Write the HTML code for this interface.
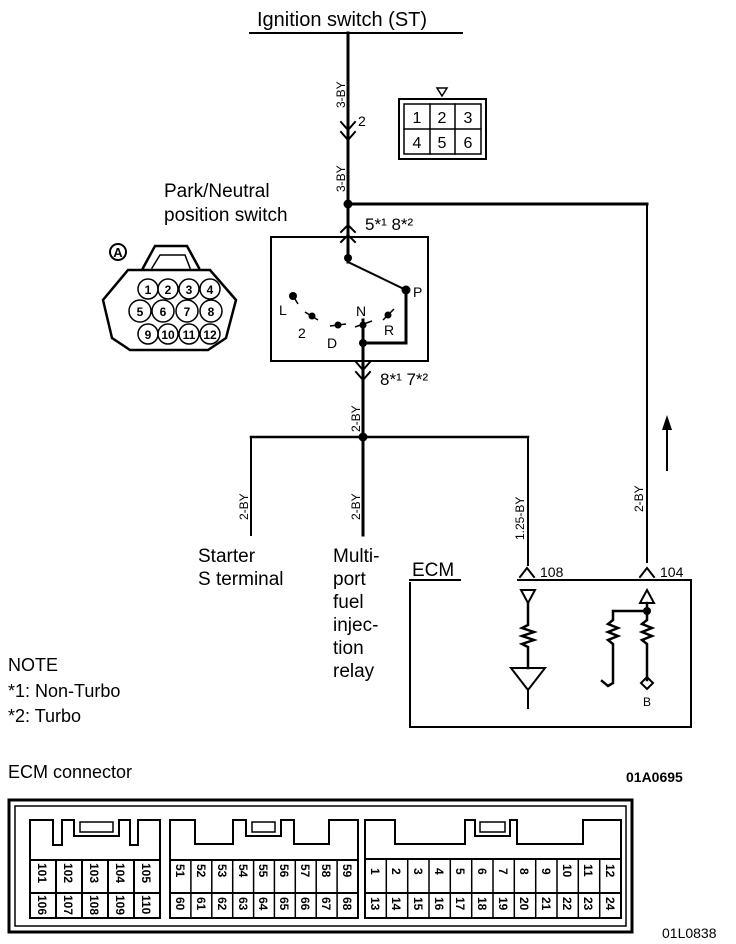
<!DOCTYPE html>
<html><head><meta charset="utf-8"><style>
html,body{margin:0;padding:0;background:#fff}
svg{display:block}
text{font-family:"Liberation Sans",sans-serif;fill:#000}
</style></head><body>
<svg width="736" height="944" viewBox="0 0 736 944" xmlns="http://www.w3.org/2000/svg">
<g stroke="#000" fill="none" stroke-linecap="square">
<line x1="250" y1="33" x2="462" y2="33" stroke-width="2"/>
<line x1="348" y1="33" x2="348" y2="262" stroke-width="3"/>
<polyline points="341,122 348,130 355,122" stroke-width="2"/>
<polyline points="341,132 348,140 355,132" stroke-width="2"/>
<line x1="348" y1="204" x2="647" y2="204" stroke-width="3"/>
<line x1="647" y1="204" x2="647" y2="562" stroke-width="2"/>
<polyline points="341,232 348,225 355,232" stroke-width="2"/>
<polyline points="341,242 348,235 355,242" stroke-width="2"/>
<rect x="271" y="237" width="157" height="124" stroke-width="2"/>
<line x1="348" y1="262" x2="406" y2="290" stroke-width="2"/>
<polyline points="406,290 406,343 363,343" stroke-width="3"/>
<line x1="363" y1="320" x2="363" y2="437" stroke-width="3"/>
<polyline points="356,362 363,370 370,362" stroke-width="2"/>
<polyline points="356,372 363,380 370,372" stroke-width="2"/>
<line x1="251" y1="437" x2="528" y2="437" stroke-width="2.5"/>
<line x1="251" y1="437" x2="251" y2="535" stroke-width="2"/>
<line x1="363" y1="437" x2="363" y2="535" stroke-width="3"/>
<line x1="528" y1="437" x2="528" y2="565" stroke-width="2"/>
<polyline points="520,577 527,568 534,577" stroke-width="2"/>
<polyline points="640,577 647,568 654,577" stroke-width="2"/>
<line x1="410" y1="580" x2="460" y2="580" stroke-width="2"/>
<line x1="518" y1="580" x2="691" y2="580" stroke-width="2"/>
<polyline points="691,580 691,727 410,727 410,583" stroke-width="2"/>
<polygon points="521,590 535,590 528,603" stroke-width="2"/>
<polyline points="528,603 528,625 522,628 534,632 522,636 534,640 522,644 528,647 528,668" stroke-width="2.5"/>
<polygon points="511,668 545,668 528,690" stroke-width="2"/>
<line x1="528" y1="690" x2="528" y2="708" stroke-width="2"/>
<polygon points="640,603 654,603 647,590" stroke-width="2"/>
<polyline points="647,603 647,620 642,624 652,628 642,632 652,636 642,640 647,644 647,680" stroke-width="2.5"/>
<polyline points="647,611 613,611 613,620 608,624 618,628 608,632 618,636 608,640 613,644 613,683 608,686 602,681" stroke-width="2.5"/>
<polygon points="641,683 647,677 653,683 647,689" stroke-width="2"/>
<line x1="667" y1="470" x2="667" y2="425" stroke-width="2"/>
<rect x="399" y="99" width="87" height="60" stroke-width="2"/>
<rect x="404" y="104" width="77" height="50" stroke-width="1.5"/>
<line x1="404" y1="129" x2="481" y2="129" stroke-width="1.5"/>
<line x1="430" y1="104" x2="430" y2="154" stroke-width="1.5"/>
<line x1="455" y1="104" x2="455" y2="154" stroke-width="1.5"/>
<polygon points="437,88 447,88 442,96" stroke-width="1.5"/>
<circle cx="118" cy="252" r="8" stroke-width="2"/>
<path d="M143,268 L155,246 L187,246 L199,268" stroke-width="2.5"/>
<path d="M152,268 L160,255 L185,255 L190,268" stroke-width="1.5"/>
<path d="M128,270 L210,270 L236,300 L226,338 L208,350 L130,350 L112,338 L103,300 Z" stroke-width="2.5"/>
</g>
<g fill="#000">
<circle cx="348" cy="204" r="4.5"/>
<circle cx="348" cy="258" r="4"/>
<circle cx="406" cy="290" r="4.5"/>
<circle cx="293" cy="296" r="4"/>
<circle cx="312" cy="316" r="3.5"/>
<circle cx="338" cy="325" r="3.5"/>
<circle cx="363" cy="325" r="3.5"/>
<circle cx="388" cy="315" r="3.5"/>
<circle cx="363" cy="343" r="4"/>
<circle cx="363" cy="437" r="4.5"/>
<circle cx="647" cy="611" r="4"/>
<polygon points="662,430 667,415 672,430"/>
</g>
<g stroke="#000" stroke-width="1.5">
<line x1="295" y1="299" x2="298" y2="304"/>
<line x1="305" y1="312" x2="318" y2="320"/>
<line x1="330" y1="326" x2="346" y2="324"/>
<line x1="355" y1="327" x2="372" y2="321"/>
<line x1="383" y1="320" x2="394" y2="309"/>
</g>
<g stroke="#000" stroke-width="1.5" fill="none">
<circle cx="148" cy="289" r="10"/><circle cx="168" cy="289" r="10"/><circle cx="189" cy="289" r="10"/><circle cx="210" cy="289" r="10"/>
<circle cx="140" cy="311" r="11"/><circle cx="163" cy="311" r="11"/><circle cx="187" cy="311" r="11"/><circle cx="211" cy="311" r="11"/>
<circle cx="148" cy="334" r="10"/><circle cx="168" cy="334" r="10"/><circle cx="189" cy="334" r="10"/><circle cx="210" cy="334" r="10"/>
</g>
<g font-size="12" text-anchor="middle" font-weight="bold">
<text x="148" y="294">1</text><text x="168" y="294">2</text><text x="189" y="294">3</text><text x="210" y="294">4</text>
<text x="140" y="316">5</text><text x="163" y="316">6</text><text x="187" y="316">7</text><text x="211" y="316">8</text>
<text x="148" y="339">9</text><text x="168" y="339">10</text><text x="189" y="339">11</text><text x="210" y="339">12</text>
<text x="118" y="257" font-size="13">A</text>
</g>
<g font-size="16" text-anchor="middle">
<text x="417" y="123">1</text><text x="442" y="123">2</text><text x="468" y="123">3</text>
<text x="417" y="148">4</text><text x="442" y="148">5</text><text x="468" y="148">6</text>
</g>
<text x="257" y="26" font-size="20">Ignition switch (ST)</text>
<text x="164" y="197" font-size="19">Park/Neutral</text>
<text x="164" y="221" font-size="19">position switch</text>
<text x="358" y="126" font-size="14">2</text>
<text x="365" y="230" font-size="17">5*¹ 8*²</text>
<text x="380" y="385" font-size="17">8*¹ 7*²</text>
<text x="279" y="315" font-size="14">L</text>
<text x="298" y="338" font-size="14">2</text>
<text x="327" y="348" font-size="14">D</text>
<text x="356" y="316" font-size="14">N</text>
<text x="384" y="335" font-size="14">R</text>
<text x="413" y="297" font-size="14">P</text>
<g font-size="12">
<text transform="translate(345,108) rotate(-90)">3-BY</text>
<text transform="translate(345,192) rotate(-90)">3-BY</text>
<text transform="translate(360,432) rotate(-90)">2-BY</text>
<text transform="translate(248,520) rotate(-90)">2-BY</text>
<text transform="translate(360,520) rotate(-90)">2-BY</text>
<text transform="translate(524,540) rotate(-90)">1.25-BY</text>
<text transform="translate(643,512) rotate(-90)">2-BY</text>
</g>
<text x="198" y="562" font-size="19">Starter</text>
<text x="198" y="585" font-size="19">S terminal</text>
<g font-size="19">
<text x="333" y="562">Multi-</text><text x="333" y="585">port</text><text x="333" y="608">fuel</text>
<text x="333" y="631">injec-</text><text x="333" y="654">tion</text><text x="333" y="677">relay</text>
</g>
<text x="412" y="576" font-size="19">ECM</text>
<text x="540" y="577" font-size="14">108</text>
<text x="660" y="577" font-size="14">104</text>
<text x="643" y="706" font-size="12">B</text>
<text x="8" y="671" font-size="18">NOTE</text>
<text x="8" y="697" font-size="18">*1: Non-Turbo</text>
<text x="8" y="722" font-size="18">*2: Turbo</text>
<text x="8" y="778" font-size="18">ECM connector</text>
<text x="626" y="782" font-size="14" font-weight="bold">01A0695</text>
<text x="662" y="938" font-size="14">01L0838</text>
<!-- ECM connector -->
<g stroke="#000" fill="none" stroke-width="2">
<rect x="9" y="800" width="623" height="132" stroke-width="3"/>
<rect x="15" y="806" width="611" height="120" stroke-width="1.5"/>
<!-- block1 -->
<path d="M30,918 V820 H53 V845 H62 V820 H74 V836 H119 V820 H130 V845 H138 V820 H160 V918 Z"/>
<path d="M80,822 H113 V832 H80 Z" stroke-width="1.5"/>
<line x1="30" y1="860" x2="160" y2="860"/>
<line x1="30" y1="893" x2="160" y2="893"/>
<line x1="56" y1="860" x2="56" y2="918"/><line x1="82" y1="860" x2="82" y2="918"/><line x1="108" y1="860" x2="108" y2="918"/><line x1="134" y1="860" x2="134" y2="918"/>
<!-- block2 -->
<path d="M170,918 V820 H195 V844 H233 V820 H246 V836 H281 V820 H294 V844 H329 V820 H358 V918 Z"/>
<path d="M252,822 H275 V832 H252 Z" stroke-width="1.5"/>
<line x1="170" y1="860" x2="358" y2="860"/>
<line x1="170" y1="893" x2="358" y2="893"/>
<!-- block3 -->
<path d="M365,918 V820 H395 V844 H465 V820 H475 V836 H510 V820 H517 V844 H583 V820 H621 V918 Z"/>
<path d="M480,822 H505 V832 H480 Z" stroke-width="1.5"/>
<line x1="365" y1="859" x2="621" y2="859"/>
<line x1="365" y1="893" x2="621" y2="893"/>
</g>
<g stroke="#000" stroke-width="1.5">
<line x1="190.9" y1="860" x2="190.9" y2="918"/><line x1="211.8" y1="860" x2="211.8" y2="918"/><line x1="232.7" y1="860" x2="232.7" y2="918"/><line x1="253.6" y1="860" x2="253.6" y2="918"/><line x1="274.4" y1="860" x2="274.4" y2="918"/><line x1="295.3" y1="860" x2="295.3" y2="918"/><line x1="316.2" y1="860" x2="316.2" y2="918"/><line x1="337.1" y1="860" x2="337.1" y2="918"/>
<line x1="386.3" y1="859" x2="386.3" y2="918"/><line x1="407.7" y1="859" x2="407.7" y2="918"/><line x1="429" y1="859" x2="429" y2="918"/><line x1="450.3" y1="859" x2="450.3" y2="918"/><line x1="471.7" y1="859" x2="471.7" y2="918"/><line x1="493" y1="859" x2="493" y2="918"/><line x1="514.3" y1="859" x2="514.3" y2="918"/><line x1="535.7" y1="859" x2="535.7" y2="918"/><line x1="557" y1="859" x2="557" y2="918"/><line x1="578.3" y1="859" x2="578.3" y2="918"/><line x1="599.7" y1="859" x2="599.7" y2="918"/>
</g>
<g font-size="12" font-weight="bold">
<text transform="translate(38,863) rotate(90)">101</text><text transform="translate(64,863) rotate(90)">102</text><text transform="translate(90,863) rotate(90)">103</text><text transform="translate(116,863) rotate(90)">104</text><text transform="translate(142,863) rotate(90)">105</text>
<text transform="translate(38,895) rotate(90)">106</text><text transform="translate(64,895) rotate(90)">107</text><text transform="translate(90,895) rotate(90)">108</text><text transform="translate(116,895) rotate(90)">109</text><text transform="translate(142,895) rotate(90)">110</text>
<text transform="translate(176,864) rotate(90)">51</text><text transform="translate(197,864) rotate(90)">52</text><text transform="translate(218,864) rotate(90)">53</text><text transform="translate(239,864) rotate(90)">54</text><text transform="translate(259,864) rotate(90)">55</text><text transform="translate(280,864) rotate(90)">56</text><text transform="translate(301,864) rotate(90)">57</text><text transform="translate(322,864) rotate(90)">58</text><text transform="translate(343,864) rotate(90)">59</text>
<text transform="translate(176,897) rotate(90)">60</text><text transform="translate(197,897) rotate(90)">61</text><text transform="translate(218,897) rotate(90)">62</text><text transform="translate(239,897) rotate(90)">63</text><text transform="translate(259,897) rotate(90)">64</text><text transform="translate(280,897) rotate(90)">65</text><text transform="translate(301,897) rotate(90)">66</text><text transform="translate(322,897) rotate(90)">67</text><text transform="translate(343,897) rotate(90)">68</text>
<text transform="translate(371,868) rotate(90)">1</text><text transform="translate(392,868) rotate(90)">2</text><text transform="translate(414,868) rotate(90)">3</text><text transform="translate(435,868) rotate(90)">4</text><text transform="translate(456,868) rotate(90)">5</text><text transform="translate(478,868) rotate(90)">6</text><text transform="translate(499,868) rotate(90)">7</text><text transform="translate(520,868) rotate(90)">8</text><text transform="translate(542,868) rotate(90)">9</text><text transform="translate(563,864) rotate(90)">10</text><text transform="translate(584,864) rotate(90)">11</text><text transform="translate(606,864) rotate(90)">12</text>
<text transform="translate(371,897) rotate(90)">13</text><text transform="translate(392,897) rotate(90)">14</text><text transform="translate(414,897) rotate(90)">15</text><text transform="translate(435,897) rotate(90)">16</text><text transform="translate(456,897) rotate(90)">17</text><text transform="translate(478,897) rotate(90)">18</text><text transform="translate(499,897) rotate(90)">19</text><text transform="translate(520,897) rotate(90)">20</text><text transform="translate(542,897) rotate(90)">21</text><text transform="translate(563,897) rotate(90)">22</text><text transform="translate(584,897) rotate(90)">23</text><text transform="translate(606,897) rotate(90)">24</text>
</g>
</svg>
</body></html>
